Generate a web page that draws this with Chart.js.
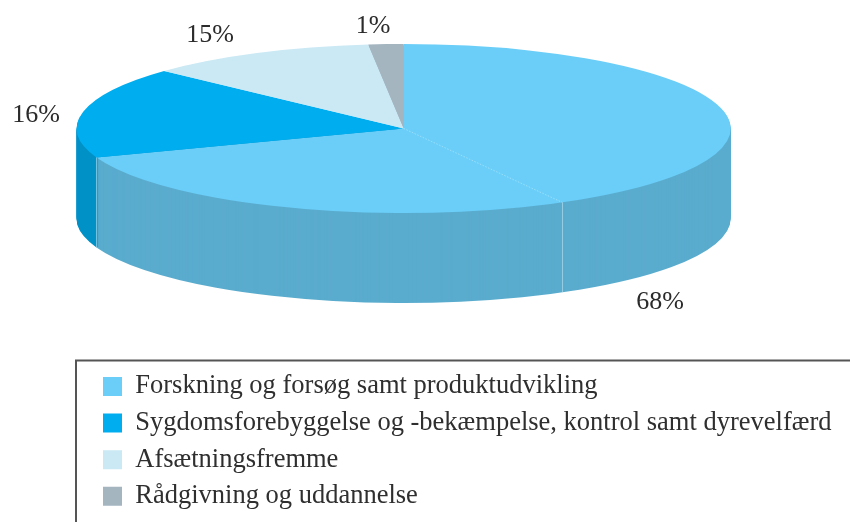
<!DOCTYPE html>
<html><head><meta charset="utf-8">
<style>html,body{margin:0;padding:0;background:#fff}#w{width:850px;height:522px;position:relative}</style>
<script src="https://cdn.jsdelivr.net/npm/chart.js@4"></script></head>
<body><div id="w"><canvas id="c" width="850" height="522"></canvas></div>
<script>
const categories = ["Forskning og forsøg samt produktudvikling","Sygdomsforebyggelse og -bekæmpelse, kontrol samt dyrevelfærd","Afsætningsfremme","Rådgivning og uddannelse"];
const printedPercent = [68,16,15,1];
// Angular shares of the wedges as they are drawn in the picture
const drawnShares = [69.44,17.47,11.36,1.73];
const topColours = ["#6BCEF8","#00AEEF","#CAE9F5","#A5B5C0"];
const sideColours = ["#5AACCE","#0091C7","#CAE9F5","#A5B5C0"];

const P = {cx:403.7, cy:128.5, rx:327, ry:84.5, depth:90, seamDeg:151};
const labelAt = [[660,309],[36,122],[210,42],[373,33]];

function project(ctx, chart, dy){
  const a = chart.getDatasetMeta(0).data[0];
  ctx.translate(P.cx, P.cy + dy);
  ctx.scale(P.rx / a.outerRadius, P.ry / a.outerRadius);
  ctx.translate(-a.x, -a.y);
}
const pie3d = {
  id:'pie3d',
  afterLayout(chart){
    const L = chart.legend, pad = L.options.labels.padding;
    L.left = 103 - pad; L.top = 373.25 - pad; L.right = 850; L.bottom = 560;
  },
  beforeDraw(chart){
    const ctx = chart.ctx;
    ctx.save();
    ctx.strokeStyle = '#555'; ctx.lineWidth = 2;
    ctx.beginPath(); ctx.moveTo(76,522); ctx.lineTo(76,360.5); ctx.lineTo(850,360.5); ctx.stroke();
    ctx.restore();
  },
  beforeDatasetsDraw(chart){
    const ctx = chart.ctx, arcs = chart.getDatasetMeta(0).data;
    for (let d = P.depth; d >= 1; d--) {
      ctx.save(); project(ctx, chart, d);
      arcs.forEach((arc,i)=>{
        const o = arc.options, keep = o.backgroundColor;
        o.backgroundColor = sideColours[i]; arc.draw(ctx); o.backgroundColor = keep;
      });
      ctx.restore();
    }
    ctx.save(); project(ctx, chart, 0);
  },
  afterDatasetsDraw(chart){
    const ctx = chart.ctx;
    ctx.restore();
    const rimAt = deg => { const t = deg*Math.PI/180; return [P.cx + P.rx*Math.sin(t), P.cy - P.ry*Math.cos(t)]; };
    const [sx,sy] = rimAt(P.seamDeg);
    const sweep = drawnShares[0]/drawnShares.reduce((a,b)=>a+b,0)*360;
    const [bx,by] = rimAt(sweep);
    ctx.save();
    ctx.lineWidth = 1;
    ctx.strokeStyle = 'rgba(190,225,240,0.6)';
    ctx.beginPath(); ctx.moveTo(Math.floor(sx)+.5,sy); ctx.lineTo(Math.floor(sx)+.5,sy+P.depth); ctx.stroke();
    ctx.beginPath(); ctx.moveTo(Math.floor(bx)+.5,by); ctx.lineTo(Math.floor(bx)+.5,by+P.depth); ctx.stroke();
    ctx.strokeStyle = 'rgba(190,235,252,0.55)';
    ctx.setLineDash([1.5,1.5]);
    ctx.beginPath(); ctx.moveTo(P.cx,P.cy); ctx.lineTo(sx,sy); ctx.stroke();
    ctx.setLineDash([]);
    ctx.fillStyle = '#2b2b2b';
    ctx.font = '26px "Liberation Serif"';
    ctx.textAlign = 'center'; ctx.textBaseline = 'alphabetic';
    printedPercent.forEach((v,i)=>ctx.fillText(v+'%', labelAt[i][0], labelAt[i][1]));
    ctx.restore();
  }
};
new Chart(document.getElementById('c'),{
  type:'pie',
  data:{labels:categories,datasets:[{data:drawnShares,backgroundColor:topColours,borderWidth:0,clip:false}]},
  plugins:[pie3d],
  options:{
    responsive:false,animation:false,
    plugins:{
      tooltip:{enabled:false},
      legend:{position:'left',align:'start',
        labels:{boxWidth:19,boxHeight:19,padding:10.1,color:'#2f2f2f',font:{family:'"Liberation Serif"',size:26.5}}}
    }
  }
});
</script></body></html>
